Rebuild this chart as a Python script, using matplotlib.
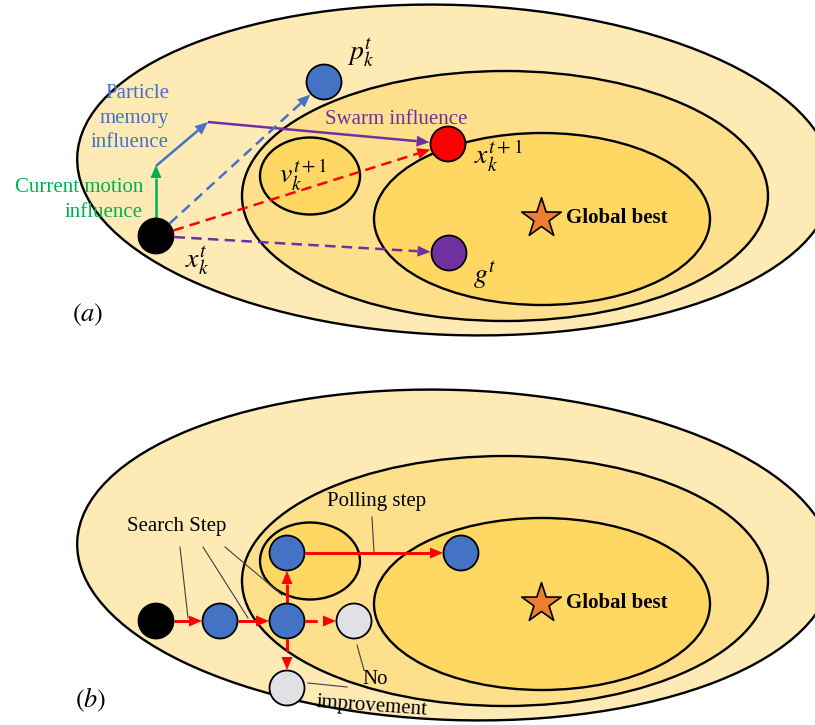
import numpy as np
import matplotlib
matplotlib.use("Agg")
import matplotlib.pyplot as plt
from matplotlib.patches import Ellipse, Circle, Polygon

plt.rcParams["mathtext.fontset"] = "stix"
SERIF = ["Liberation Serif", "DejaVu Serif"]

W, H = 815, 725
PANEL_DY = 385  # vertical offset of panel (b) relative to panel (a)

# nested search regions: (cx, cy, width, height, angle, fill)
regions_cx = [455, 505, 542, 310]
regions_cy = [170, 196, 219, 176]
regions_w = [756, 526, 336, 100]
regions_h = [330, 250, 172, 77]
regions_angle = [2.0, 0, 0, 0]
regions_fill = ["#FEEAB5", "#FEE08C", "#FFD864", "#FFD864"]

star_xy = (541, 218)

# panel (a) particles
pso_names = ["x_t", "p_t", "x_next", "g_t"]
pso_x = [156, 324, 448, 449]
pso_y = [236, 82, 144, 253]
pso_colors = ["#000000", "#4472C4", "#FF0000", "#7030A0"]

# panel (b) poll points
ps_x = [156, 220, 287, 287, 461, 354, 287]
ps_y = [621, 621, 621, 553, 553, 621, 688]
ps_colors = ["#000000", "#4472C4", "#4472C4", "#4472C4", "#4472C4", "#E1E0E5", "#E1E0E5"]
# moves between poll points: (from, to, dashed)
ps_moves = [(0, 1, False), (1, 2, False), (2, 3, False), (3, 4, False), (2, 5, True), (2, 6, True)]

R = 17.5

fig = plt.figure(figsize=(W / 100, H / 100), dpi=100)
ax = fig.add_axes([0, 0, 1, 1])
ax.set_xlim(0, W)
ax.set_ylim(H, 0)
ax.axis("off")


def draw_regions(dy):
    for cx, cy, w, h, a, c in zip(regions_cx, regions_cy, regions_w, regions_h, regions_angle, regions_fill):
        ax.add_patch(Ellipse((cx, cy + dy), w, h, angle=a, facecolor=c,
                             edgecolor="black", lw=1.7, zorder=1))
    ax.scatter([star_xy[0]], [star_xy[1] + dy], marker="*", s=900, c="#ED7D31",
               edgecolors="black", linewidths=1.2, zorder=5)
    ax.text(566, star_xy[1] + dy, "Global best", family=SERIF, fontsize=15,
            fontweight="bold", ha="left", va="center", zorder=6)


def arrow(p0, p1, color, dashed=False, lw=1.8, head_len=13, head_w=11, z=3):
    p0 = np.asarray(p0, float)
    p1 = np.asarray(p1, float)
    u = (p1 - p0) / np.hypot(*(p1 - p0))
    n = np.array([-u[1], u[0]])
    base = p1 - head_len * u
    ls = (0, (4.2, 2.5)) if dashed else "-"
    ax.plot([p0[0], base[0]], [p0[1], base[1]], color=color, lw=lw, ls=ls,
            solid_capstyle="butt", dash_capstyle="butt", zorder=z)
    ax.add_patch(Polygon([p1, base + n * head_w / 2, base - n * head_w / 2],
                         closed=True, facecolor=color, edgecolor="none", zorder=z))


def dot(x, y, color, z=4):
    ax.add_patch(Circle((x, y), R, facecolor=color, edgecolor="black", lw=1.3, zorder=z))


def edge_point(xc, yc, xt, yt, r=R + 1):
    v = np.array([xt - xc, yt - yc], float)
    v /= np.hypot(*v)
    return (xc + r * v[0], yc + r * v[1])


# ---------------- panel (a): particle swarm ----------------
draw_regions(0)
xt = (pso_x[0], pso_y[0])
# current motion, memory and swarm components
arrow((xt[0], xt[1] - R - 1), (xt[0], 165), "#00B050")
arrow((xt[0], 166), (208, 122), "#4472C4")
arrow((208, 122), edge_point(pso_x[2], pso_y[2], 208, 122), "#7030A0")
# resulting moves
for k, col in [(1, "#4472C4"), (2, "#FF0000"), (3, "#7030A0")]:
    start = edge_point(xt[0], xt[1], pso_x[k], pso_y[k])
    end = edge_point(pso_x[k], pso_y[k], xt[0], xt[1])
    arrow(start, end, col, dashed=True)
for x, y, c in zip(pso_x, pso_y, pso_colors):
    dot(x, y, c)

math_fs = 20
ax.text(361, 53, r"$p_k^t$", fontsize=math_fs, ha="center", va="center")
ax.text(303, 175, r"$v_k^{t+1}$", fontsize=math_fs, ha="center", va="center", zorder=6)
ax.text(474, 156, r"$x_k^{t+1}$", fontsize=math_fs, ha="left", va="center")
ax.text(197, 261, r"$x_k^t$", fontsize=math_fs, ha="center", va="center")
ax.text(485, 276, r"$g^t$", fontsize=math_fs, ha="center", va="center")

ax.text(169, 118, "Particle\nmemory\ninfluence", family=SERIF, fontsize=15,
        color="#4472C4", ha="right", va="center", multialignment="right", linespacing=1.38)
ax.text(143, 200, "Current motion\ninfluence", family=SERIF, fontsize=15,
        color="#00B050", ha="right", va="center", multialignment="right", linespacing=1.38)
ax.text(396, 119, "Swarm influence", family=SERIF, fontsize=15, color="#7030A0",
        ha="center", va="center")
ax.text(88, 315, r"$(a)$", fontsize=19, ha="center", va="center")

# ---------------- panel (b): pattern search ----------------
draw_regions(PANEL_DY)
for i, j, dashed in ps_moves:
    start = edge_point(ps_x[i], ps_y[i], ps_x[j], ps_y[j], R)
    end = edge_point(ps_x[j], ps_y[j], ps_x[i], ps_y[i], R + 0.5)
    arrow(start, end, "#FF0000", dashed=dashed, lw=2.1, head_len=13, head_w=11)
for x, y, c in zip(ps_x, ps_y, ps_colors):
    dot(x, y, c)

lead = dict(color="#404040", lw=0.8, zorder=2)
for (x0, y0), (x1, y1) in [((180, 547), (188, 618)), ((203, 547), (248, 618)),
                           ((225, 547), (282, 595)), ((372, 517), (374, 552)),
                           ((357, 645), (364, 670)), ((308, 683), (347, 687))]:
    ax.plot([x0, x1], [y0, y1], **lead)

ax.text(177, 526, "Search Step", family=SERIF, fontsize=15, ha="center", va="center")
ax.text(377, 501, "Polling step", family=SERIF, fontsize=15, ha="center", va="center")
ax.text(375, 679, "No", family=SERIF, fontsize=15, ha="center", va="center")
ax.text(372, 706, "improvement", family=SERIF, fontsize=15, ha="center", va="center",
        rotation=-4, rotation_mode="anchor")
ax.text(91, 700, r"$(b)$", fontsize=19, ha="center", va="center")

fig.savefig("out.png", dpi=100)
